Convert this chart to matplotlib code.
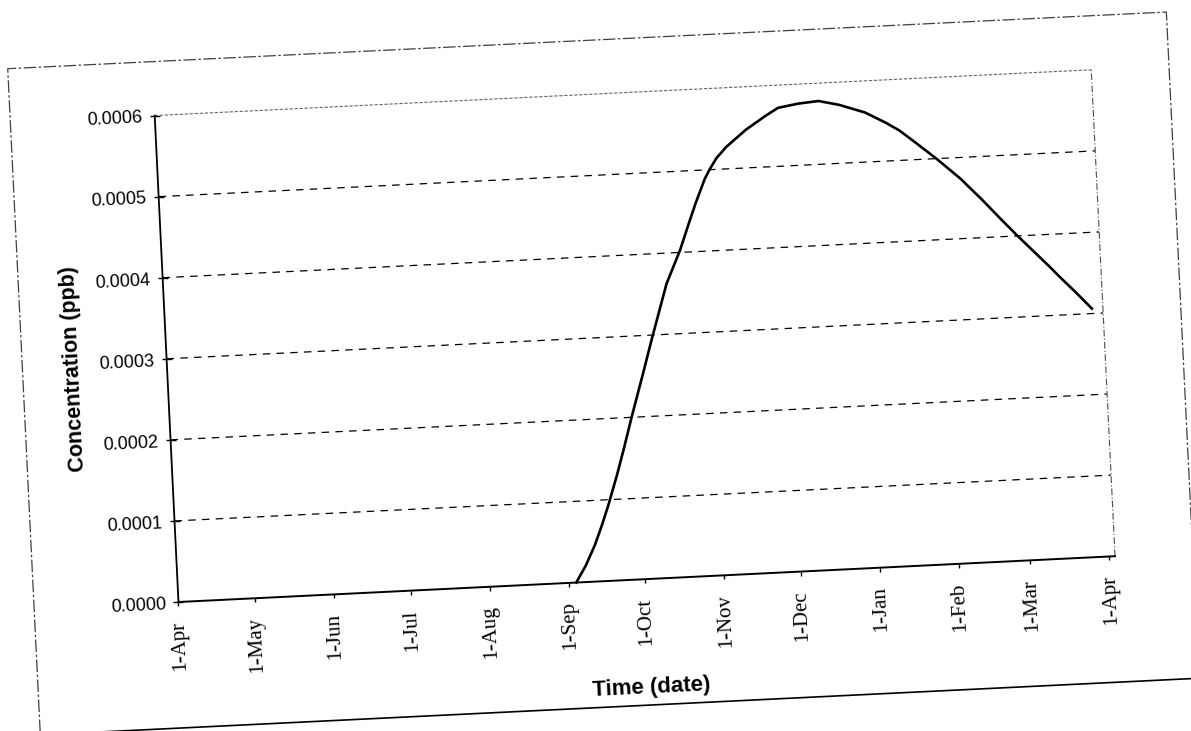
import matplotlib
matplotlib.use("Agg")
import matplotlib.pyplot as plt
import matplotlib.dates as mdates
from matplotlib.ticker import FixedLocator, FixedFormatter
from matplotlib.transforms import Affine2D

# Simulated concentration at the receptor (ppb)
sample_dates = [
    "2001-09-04", "2001-09-08", "2001-09-12", "2001-09-15", "2001-09-18",
    "2001-09-22", "2001-09-25", "2001-09-29", "2001-10-04", "2001-10-08",
    "2001-10-15", "2001-10-21", "2001-10-25", "2001-10-28", "2001-11-01",
    "2001-11-03", "2001-11-06", "2001-11-10", "2001-11-18", "2001-11-26",
    "2001-12-01", "2001-12-09", "2001-12-17", "2001-12-25", "2002-01-04",
    "2002-01-12", "2002-01-17", "2002-01-22", "2002-01-31", "2002-02-09",
    "2002-02-17", "2002-02-24", "2002-03-02", "2002-03-08", "2002-03-14",
    "2002-03-18", "2002-03-24", "2002-03-30",
]
concentration_ppb = [
    0.0, 0.000020, 0.000045, 0.000068, 0.000093,
    0.000130, 0.000160, 0.000202, 0.000252, 0.000293,
    0.000362, 0.000403, 0.000436, 0.000460, 0.000489,
    0.000500, 0.000514, 0.000527, 0.000547, 0.000563,
    0.000572, 0.000576, 0.000578, 0.000572, 0.000561,
    0.000547, 0.000537, 0.000524, 0.000500, 0.000474,
    0.000447, 0.000422, 0.000401, 0.000381, 0.000361,
    0.000347, 0.000327, 0.000306,
]

month_ticks = [
    "2001-04-01", "2001-05-01", "2001-06-01", "2001-07-01", "2001-08-01",
    "2001-09-01", "2001-10-01", "2001-11-01", "2001-12-01", "2002-01-01",
    "2002-02-01", "2002-03-01", "2002-04-01",
]
month_labels = [
    "1-Apr", "1-May", "1-Jun", "1-Jul", "1-Aug", "1-Sep", "1-Oct",
    "1-Nov", "1-Dec", "1-Jan", "1-Feb", "1-Mar", "1-Apr",
]
conc_ticks = [0.0, 0.0001, 0.0002, 0.0003, 0.0004, 0.0005, 0.0006]
conc_labels = ["0.0000", "0.0001", "0.0002", "0.0003", "0.0004", "0.0005", "0.0006"]

axis_start = "2001-04-01"
axis_end = "2002-04-03 07:00"

SANS = "Liberation Sans"
SERIF = "Liberation Serif"
TILT = 2.8  # the printed sheet sits slightly turned

fig = plt.figure(figsize=(11.91, 7.31), dpi=100)
ax = fig.add_axes([0.1394, 0.2074, 0.7873, 0.6662])
ax.patch.set_visible(False)
for spine in ax.spines.values():
    spine.set_visible(False)
ax.set_autoscale_on(False)
ax.set_xlim(mdates.datestr2num(axis_start), mdates.datestr2num(axis_end))
ax.set_ylim(conc_ticks[0], conc_ticks[-1])

bb = ax.bbox
tilt = Affine2D().rotate_deg_around((bb.x0 + bb.x1) / 2, (bb.y0 + bb.y1) / 2, TILT)
data_tf = ax.transData + tilt
frame_tf = ax.transAxes + tilt

ax.xaxis.set_major_locator(FixedLocator(mdates.datestr2num(month_ticks)))
ax.xaxis.set_major_formatter(FixedFormatter(month_labels))
ax.yaxis.set_major_locator(FixedLocator(conc_ticks))
ax.yaxis.set_major_formatter(FixedFormatter(conc_labels))
ax.tick_params(axis="x", direction="out", length=3, width=1, pad=10,
               labelsize=15, labelrotation=90, labelfontfamily=SERIF)
ax.tick_params(axis="y", direction="inout", length=6.5, width=1, pad=5.4,
               labelsize=13, labelfontfamily=SANS)
ax.grid(axis="y", color="black", linestyle=(0, (6, 5)), linewidth=0.9)

ax.set_xlabel("Time (date)", fontsize=16, fontweight="bold", family=SANS)
ax.set_ylabel("Concentration (ppb)", fontsize=15.5, fontweight="bold", family=SANS)
ax.xaxis.set_label_coords(0.5, -0.195)
ax.yaxis.set_label_coords(-0.0885, 0.489)

# build the ticks once, then turn them with the sheet
fig.canvas.draw()
for axis, angle in ((ax.xaxis, 90 + TILT), (ax.yaxis, TILT)):
    for tick in axis.get_major_ticks():
        for art in (tick.tick1line, tick.tick2line, tick.gridline, tick.label1, tick.label2):
            art.set_transform(art.get_transform() + tilt)
            art.set_clip_on(False)
        tick.label1.set_rotation(angle)
    axis.label.set_transform(axis.label.get_transform() + tilt)
ax.xaxis.label.set_rotation(TILT)
ax.yaxis.label.set_rotation(90 + TILT)
yticks = ax.yaxis.get_major_ticks()
yticks[0].gridline.set_visible(False)
yticks[-1].gridline.set_visible(False)

# plot-area frame
ax.plot([0, 1], [1, 1], transform=frame_tf, color="0.4", lw=0.8,
        linestyle=(0, (3, 1.5)), clip_on=False)
ax.plot([1, 1], [0, 1], transform=frame_tf, color="0.3", lw=0.8,
        linestyle=(0, (6, 2, 1, 2)), clip_on=False)
ax.plot([0, 0], [0, 1], transform=frame_tf, color="black", lw=1.3, clip_on=False)
ax.plot([0, 1], [0, 0], transform=frame_tf, color="black", lw=1.4, clip_on=False)

# chart-area border
ox0, ox1, oy0, oy1 = -0.1541, 1.0830, -0.2587, 1.1109
ax.plot([ox0, ox0, ox1, ox1], [oy0, oy1, oy1, oy0], transform=frame_tf,
        color="0.25", lw=0.9, linestyle=(0, (10, 2, 2, 2)), clip_on=False)
ax.plot([ox0, ox1], [oy0, oy0], transform=frame_tf, color="black", lw=1.2,
        clip_on=False)

# concentration curve
ax.plot(mdates.datestr2num(sample_dates), concentration_ppb, color="black",
        lw=1.9, transform=data_tf, clip_on=False, solid_joinstyle="round")

fig.savefig("out.png", dpi=100)
